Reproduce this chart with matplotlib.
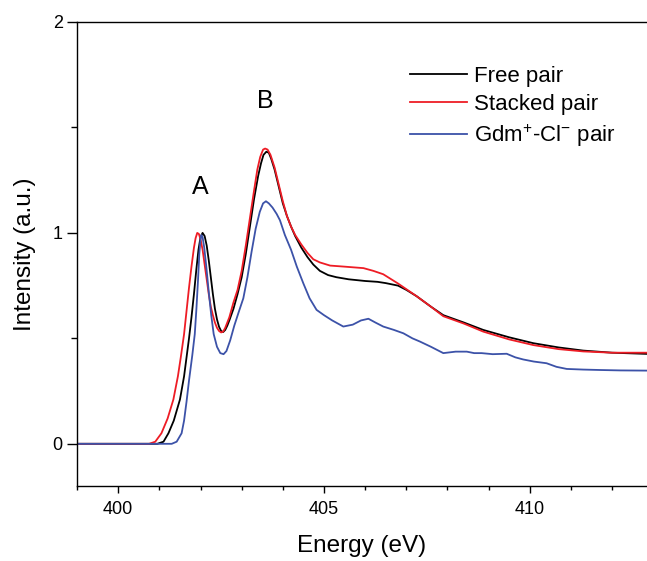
import matplotlib

matplotlib.use("Agg")
import matplotlib.pyplot as plt  # noqa: E402
from matplotlib.ticker import MultipleLocator  # noqa: E402

plt.rcParams["font.family"] = ["Liberation Sans", "DejaVu Sans"]
plt.rcParams["mathtext.default"] = "regular"

# Free pair (black)
free_x = [399.0, 400.95, 401.1, 401.22, 401.35, 401.5, 401.6, 401.66, 401.72, 401.78,
          401.84, 401.9, 401.95, 402.0, 402.05, 402.1, 402.15, 402.2, 402.25, 402.3,
          402.35, 402.4, 402.45, 402.5, 402.55, 402.6, 402.65, 402.7, 402.8, 402.9,
          403.0, 403.1, 403.2, 403.3, 403.4, 403.47, 403.53, 403.6, 403.66, 403.72,
          403.8, 403.9, 404.0, 404.1, 404.2, 404.3, 404.45, 404.6, 404.74, 404.9,
          405.1, 405.3, 405.6, 406.0, 406.3, 406.5, 406.8, 407.0, 407.25, 407.6,
          407.9, 408.4, 408.87, 409.5, 410.09, 410.7, 411.3, 412.0, 412.9]
free_y = [0.0, 0.0, 0.01, 0.05, 0.11, 0.21, 0.32, 0.41, 0.50, 0.60,
          0.71, 0.83, 0.92, 0.98, 1.00, 0.985, 0.94, 0.87, 0.79, 0.71,
          0.64, 0.59, 0.555, 0.535, 0.53, 0.54, 0.56, 0.585, 0.64, 0.71,
          0.79, 0.90, 1.03, 1.16, 1.27, 1.33, 1.37, 1.385, 1.38, 1.35,
          1.30, 1.22, 1.14, 1.08, 1.03, 0.985, 0.93, 0.885, 0.85, 0.82,
          0.80, 0.79, 0.78, 0.772, 0.768, 0.762, 0.75, 0.73, 0.70, 0.65,
          0.61, 0.575, 0.54, 0.505, 0.477, 0.457, 0.442, 0.432, 0.426]

# Stacked pair (red)
stacked_x = [399.0, 400.75, 400.9, 401.05, 401.2, 401.34, 401.45, 401.52, 401.6, 401.66,
             401.72, 401.78, 401.84, 401.88, 401.92, 401.96, 402.0, 402.05, 402.1, 402.15,
             402.2, 402.25, 402.3, 402.35, 402.4, 402.45, 402.5, 402.55, 402.6, 402.7,
             402.8, 402.9, 403.0, 403.1, 403.2, 403.3, 403.38, 403.45, 403.52, 403.57,
             403.63, 403.7, 403.8, 403.9, 404.0, 404.1, 404.2, 404.3, 404.45, 404.6,
             404.74, 404.9, 405.15, 405.5, 405.96, 406.2, 406.44, 406.8, 407.25, 407.6,
             407.9, 408.4, 408.87, 409.5, 410.09, 410.7, 411.3, 412.0, 412.9]
stacked_y = [0.0, 0.0, 0.01, 0.05, 0.12, 0.21, 0.32, 0.41, 0.52, 0.63,
             0.74, 0.84, 0.93, 0.975, 1.00, 0.995, 0.97, 0.92, 0.85, 0.78,
             0.71, 0.65, 0.61, 0.575, 0.55, 0.535, 0.528, 0.532, 0.55, 0.60,
             0.67, 0.73, 0.82, 0.94, 1.07, 1.20, 1.30, 1.36, 1.395, 1.40,
             1.395, 1.37, 1.31, 1.23, 1.15, 1.08, 1.03, 0.99, 0.945, 0.905,
             0.875, 0.86, 0.845, 0.84, 0.833, 0.82, 0.804, 0.76, 0.70, 0.65,
             0.605, 0.57, 0.532, 0.495, 0.468, 0.449, 0.438, 0.432, 0.432]

# Gdm+-Cl- pair (blue)
gdm_x = [399.0, 401.3, 401.42, 401.54, 401.6, 401.66, 401.72, 401.8, 401.86, 401.9,
         401.94, 401.97, 402.0, 402.02, 402.05, 402.09, 402.14, 402.2, 402.26, 402.32,
         402.4, 402.48, 402.56, 402.63, 402.72, 402.82, 402.92, 403.04, 403.14, 403.24,
         403.34, 403.44, 403.52, 403.59, 403.66, 403.75, 403.85, 403.93, 404.05, 404.2,
         404.34, 404.5, 404.65, 404.82, 405.0, 405.2, 405.47, 405.7, 405.9, 406.08,
         406.25, 406.44, 406.7, 406.93, 407.15, 407.33, 407.6, 407.9, 408.2, 408.47,
         408.65, 408.83, 409.1, 409.44, 409.65, 409.84, 410.1, 410.41, 410.65, 410.9,
         411.3, 411.7, 412.2, 412.9]
gdm_y = [0.0, 0.0, 0.01, 0.05, 0.11, 0.20, 0.30, 0.42, 0.52, 0.64,
         0.78, 0.90, 0.97, 0.99, 0.98, 0.93, 0.84, 0.72, 0.61, 0.52,
         0.46, 0.43, 0.425, 0.44, 0.49, 0.56, 0.62, 0.69, 0.79, 0.91,
         1.02, 1.10, 1.14, 1.15, 1.14, 1.12, 1.09, 1.06, 0.99, 0.92,
         0.84, 0.76, 0.69, 0.635, 0.61, 0.585, 0.556, 0.565, 0.585, 0.593,
         0.575, 0.556, 0.54, 0.524, 0.50, 0.485, 0.46, 0.43, 0.437, 0.437,
         0.43, 0.43, 0.425, 0.427, 0.41, 0.40, 0.39, 0.382, 0.365, 0.355,
         0.352, 0.35, 0.348, 0.347]

labels = ["Free pair", "Stacked pair", "Gdm$^{+}$-Cl$^{-}$ pair"]
colors = ["#000000", "#ee1c25", "#3c52a8"]

fig = plt.figure(figsize=(6.47, 5.61), dpi=100)
ax = fig.add_axes([0.1185, 0.1337, 0.8815, 0.8271])

for (xs, ys), lab, col in zip([(free_x, free_y), (stacked_x, stacked_y), (gdm_x, gdm_y)],
                              labels, colors):
    ax.plot(xs, ys, color=col, lw=1.3, label=lab, solid_joinstyle="round")

ax.set_xlim(398.99, 412.85)
ax.set_ylim(-0.2, 2.0)
ax.xaxis.set_major_locator(MultipleLocator(5))
ax.xaxis.set_minor_locator(MultipleLocator(1))
ax.yaxis.set_major_locator(MultipleLocator(1))
ax.yaxis.set_minor_locator(MultipleLocator(0.5))
ax.tick_params(axis="x", which="major", direction="out", length=5, width=1, labelsize=13, pad=6)
ax.tick_params(axis="x", which="minor", direction="out", length=3, width=1)
ax.tick_params(axis="y", which="major", direction="out", length=7, width=1, labelsize=13, pad=3)
ax.tick_params(axis="y", which="minor", direction="out", length=4, width=1)
ax.spines["right"].set_visible(False)
for s in ("left", "bottom", "top"):
    ax.spines[s].set_linewidth(1.0)

ax.set_xlabel("Energy (eV)", fontsize=17.5, labelpad=12)
ax.set_ylabel("Intensity (a.u.)", fontsize=17.5, labelpad=12)

ax.text(401.99, 1.22, "A", fontsize=18, ha="center", va="center")
ax.text(403.57, 1.625, "B", fontsize=18, ha="center", va="center")

ax.legend(loc="upper left", bbox_to_anchor=(0.584, 0.906), frameon=False, fontsize=16,
          handlelength=2.56, handletextpad=0.32, labelspacing=0.33, borderpad=0,
          borderaxespad=0)

fig.savefig("out.png", dpi=100)
